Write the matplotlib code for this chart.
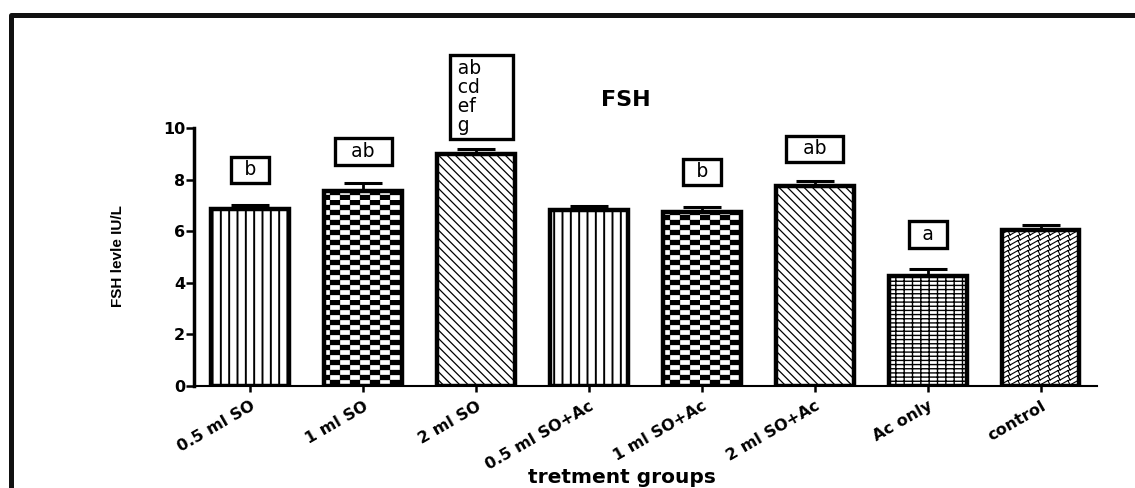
import warnings
import numpy as np
import matplotlib
matplotlib.use("Agg")
import matplotlib.pyplot as plt
import matplotlib.hatch as mhatch
from matplotlib.path import Path
from matplotlib.lines import Line2D

warnings.filterwarnings("ignore")

groups = ["0.5 ml SO", "1 ml SO", "2 ml SO", "0.5 ml SO+Ac",
          "1 ml SO+Ac", "2 ml SO+Ac", "Ac only", "control"]
fsh_mean = [6.85, 7.55, 9.0, 6.82, 6.75, 7.75, 4.25, 6.05]
fsh_sem = [0.17, 0.33, 0.2, 0.17, 0.2, 0.18, 0.27, 0.17]
sig_letters = ["b", "ab", "ab\ncd\nef\ng", "", "b", "ab", "a", ""]
sig_y = [8.37, 9.09, 11.2, 0, 8.3, 9.19, 5.87, 0]
yticks = [0, 2, 4, 6, 8, 10]


# extra hatch fills: checkerboard ('Q') and zigzag ('Z')
class CheckerHatch(mhatch.HatchPatternBase):
    def __init__(self, hatch, density):
        self.cols, self.rows = 10, 20
        n = self.cols * self.rows // 2
        self.num_vertices = 5 * n if "Q" in hatch else 0

    def set_vertices_and_codes(self, vertices, codes):
        w, h = 1 / self.cols, 1 / self.rows
        sq = np.array([[0, 0], [w, 0], [w, h], [0, h], [0, 0]])
        k = 0
        for i in range(self.cols):
            for j in range(self.rows):
                if (i + j) % 2 == 0:
                    vertices[k:k + 5] = sq + [i * w, j * h]
                    codes[k:k + 5] = [Path.MOVETO, Path.LINETO, Path.LINETO,
                                      Path.LINETO, Path.CLOSEPOLY]
                    k += 5


class ZigzagHatch(mhatch.HatchPatternBase):
    def __init__(self, hatch, density):
        self.cols, self.rows = 10, 20
        self.num_vertices = 4 * self.cols * self.rows if "Z" in hatch else 0

    def set_vertices_and_codes(self, vertices, codes):
        w, h = 1 / self.cols, 1 / self.rows
        seg = np.array([[0, 0], [0.8 * w, 0.9 * h], [0.8 * w, 0.9 * h], [w, 0]])
        k = 0
        for i in range(self.cols):
            for j in range(self.rows):
                vertices[k:k + 4] = seg + [i * w, j * h]
                codes[k:k + 4] = [Path.MOVETO, Path.LINETO, Path.MOVETO, Path.LINETO]
                k += 4


mhatch._hatch_types.extend([CheckerHatch, ZigzagHatch])

hatches = ["||", "Q", "\\\\\\\\", "||", "Q", "\\\\\\\\", "||----", "Z"]
hatch_lw = [1.4, 0.2, 0.9, 1.4, 0.2, 0.9, 1.0, 0.8]

plt.rcParams["hatch.linewidth"] = 1.0
plt.rcParams["hatch.color"] = "black"

fig = plt.figure(figsize=(11.35, 4.88), dpi=100)
ax = fig.add_axes([0.1709, 0.2100, 0.7956, 0.5277])

x = np.arange(len(groups))
bars = ax.bar(x, fsh_mean, width=0.69, color="white", edgecolor="black",
              linewidth=3.2, zorder=2)
for b, h, lw in zip(bars, hatches, hatch_lw):
    b.set_hatch(h)
    if hasattr(b, "set_hatch_linewidth"):
        b.set_hatch_linewidth(lw)

ax.errorbar(x, fsh_mean, yerr=[np.zeros(len(x)), fsh_sem], fmt="none",
            ecolor="black", elinewidth=2.0, capsize=14, capthick=2.2, zorder=3)

for xi, txt, yy in zip(x, sig_letters, sig_y):
    if not txt:
        continue
    if "\n" in txt:
        lines = txt.split("\n")
        lines[0] = "\u2009" + lines[0] + "\u2002\u2002\u2002"
        lines[1:] = ["\u2009" + s for s in lines[1:]]
        s = "\n".join(lines)
        ax.text(xi + 0.05, yy, s, ha="center", va="center", multialignment="left",
                fontsize=13.5, family="DejaVu Sans", linespacing=1.0,
                clip_on=False, zorder=4,
                bbox=dict(boxstyle="square,pad=0.2", fc="white", ec="black", lw=2.4))
    else:
        pad = "\u2002" if len(txt) == 1 else "\u2002\u2009"
        ax.text(xi, yy, pad + txt + pad, ha="center", va="center",
                fontsize=13.5, family="DejaVu Sans", clip_on=False, zorder=4,
                bbox=dict(boxstyle="square,pad=0.2", fc="white", ec="black", lw=2.4))

ax.set_xlim(-0.5, 7.5)
ax.set_ylim(0, 10)
ax.set_yticks(yticks)
ax.set_xticks(x)
ax.set_xticklabels(groups, rotation=30, ha="right", va="top",
                   rotation_mode="anchor", fontsize=11.5, fontweight="bold",
                   family="DejaVu Sans")
for lab in ax.get_yticklabels():
    lab.set_fontweight("bold")
    lab.set_fontsize(11.5)
    lab.set_family("DejaVu Sans")

ax.spines["top"].set_visible(False)
ax.spines["right"].set_visible(False)
ax.spines["left"].set_linewidth(2.5)
ax.spines["bottom"].set_linewidth(1.5)
ax.tick_params(axis="y", direction="out", length=5.8, width=1.8, pad=0.5)
ax.tick_params(axis="x", direction="out", length=4.3, width=1.8, pad=5)

fig.text(0.104, 0.4754, "FSH levle IU/L", rotation=90, ha="center", va="center",
         fontsize=11, fontweight="bold", family="Liberation Sans")
fig.text(0.5515, 0.795, "FSH", ha="center", va="center", fontsize=16,
         fontweight="bold", family="DejaVu Sans")
fig.text(0.548, 1 - 483 / 488, "tretment groups", ha="center", va="baseline",
         fontsize=14.5, fontweight="bold", family="DejaVu Sans")

# outer frame (left and top edges only, as in the source image)
fig.add_artist(Line2D([11 / 1135, 11 / 1135, 1], [0, 1 - 15 / 488, 1 - 15 / 488],
                      transform=fig.transFigure, color="#111111", lw=3.6))

fig.savefig("out.png", dpi=100)
